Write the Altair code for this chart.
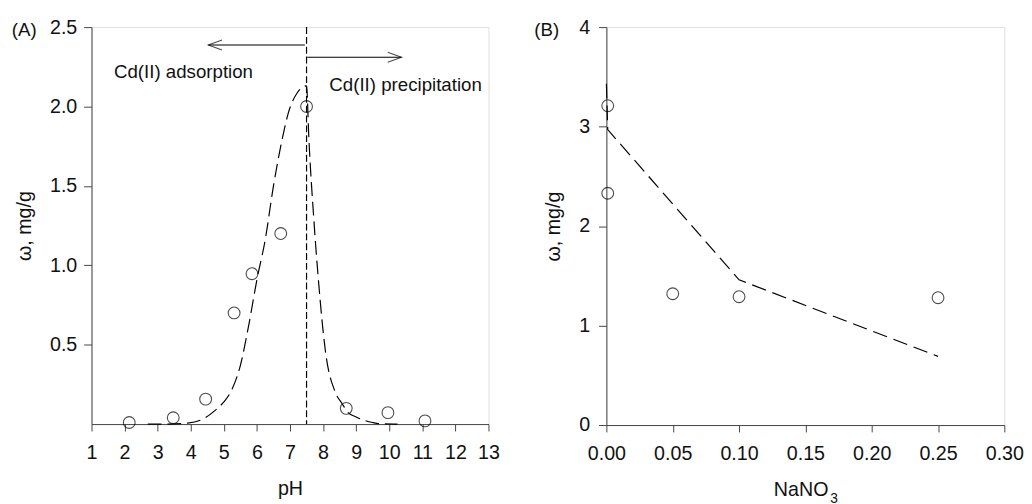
import altair as alt
import pandas as pd

FONT = "Liberation Sans"
AXC = "#444444"
TXT = "#111111"

# ---- Panel A data ----
ph_pts = [2.14, 3.47, 4.45, 5.31, 5.85, 6.72, 7.50, 8.70, 9.96, 11.08]
w_pts = [0.01, 0.04, 0.157, 0.70, 0.947, 1.20, 2.00, 0.099, 0.072, 0.02]

ph_fit = [2.7, 3.3, 3.9, 4.4, 4.7, 5.0, 5.2, 5.5, 5.75, 6.0, 6.25, 6.5, 6.78, 6.95,
          7.2, 7.5, 7.57, 7.72, 7.87, 8.07, 8.37, 8.57, 8.76, 9.0, 9.2, 9.5, 9.75, 10.25]
w_fit = [0.0, 0.0, 0.006, 0.035, 0.08, 0.14, 0.2, 0.37, 0.62, 0.91, 1.16, 1.5, 1.81, 1.96,
         2.08, 2.13, 1.80, 1.29, 0.88, 0.46, 0.2, 0.13, 0.072, 0.045, 0.027, 0.01, 0.002, 0.0]

vline_ph = [7.5]
arrow_x1 = [7.45, 7.52]
arrow_x2 = [4.53, 10.37]
arrow_y = [2.387, 2.31]
arrow_dir = ["left", "right"]

ann_text = ["Cd(II) adsorption", "Cd(II) precipitation"]
ann_x = [1.68, 8.19]
ann_y = [2.217, 2.135]

# ---- Panel B data ----
na_pts = [0.001, 0.001, 0.05, 0.10, 0.25]
wb_pts = [3.21, 2.33, 1.32, 1.29, 1.28]
na_fit = [0.0, 0.001, 0.10, 0.25]
wb_fit = [3.43, 2.97, 1.46, 0.69]

ph_ticks = list(range(1, 14))
wa_ticks = [0.5, 1.0, 1.5, 2.0, 2.5]
na_ticks = [0.0, 0.05, 0.10, 0.15, 0.20, 0.25, 0.30]
wb_ticks = [0, 1, 2, 3, 4]

WA, HA = 404, 404
WB, HB = 405, 405
LFS = 20

def xaxis(vals, fmt, title, **kw):
    return alt.Axis(values=vals, format=fmt, title=title, grid=False, tickSize=7,
                    labelPadding=12, labelFontSize=LFS, labelFont=FONT, labelColor=TXT,
                    titleFont=FONT, titleFontSize=20, titleFontWeight="normal",
                    titleColor=TXT, titlePadding=17, domainColor=AXC, tickColor=AXC,
                    labelFlush=False, labelOverlap=False, **kw)

def yaxis(vals, fmt, lp, tp):
    return alt.Axis(values=vals, format=fmt, title="ω, mg/g", grid=False, tickSize=8,
                    labelPadding=lp, labelFontSize=LFS, labelFont=FONT, labelColor=TXT,
                    titleFont=FONT, titleFontSize=20, titleFontWeight="normal",
                    titleColor=TXT, titlePadding=tp, domainColor=AXC, tickColor=AXC,
                    labelOverlap=False)

xA = alt.Scale(domain=[1, 13], nice=False, zero=False)
yA = alt.Scale(domain=[0, 2.5], nice=False)
axXA = xaxis(ph_ticks, "d", "pH")
axYA = yaxis(wa_ticks, ".1f", 7, 15)

ptsA = pd.DataFrame({"ph": ph_pts, "w": w_pts})
fitA = pd.DataFrame({"ph": ph_fit, "w": w_fit})
vA = pd.DataFrame({"ph": vline_ph})
arrA = pd.DataFrame({"x1": arrow_x1, "x2": arrow_x2, "y": arrow_y, "d": arrow_dir})
annA = pd.DataFrame({"t": ann_text, "x": ann_x, "y": ann_y})

baseA = alt.Chart(ptsA).mark_point(shape="circle", filled=False, color="black",
                                   size=144, strokeWidth=1.1).encode(
    x=alt.X("ph:Q", scale=xA, axis=axXA),
    y=alt.Y("w:Q", scale=yA, axis=axYA),
)
fitLineA = alt.Chart(fitA).mark_line(color="black", strokeWidth=1.2, strokeDash=[14, 6],
                                     interpolate="monotone").encode(
    x=alt.X("ph:Q", scale=xA, axis=axXA), y=alt.Y("w:Q", scale=yA, axis=axYA))
vruleA = alt.Chart(vA).mark_rule(color="black", strokeWidth=1.2, strokeDash=[7, 3]).encode(
    x=alt.X("ph:Q", scale=xA, axis=axXA), y=alt.value(0), y2=alt.value(HA))
shaftA = alt.Chart(arrA).mark_rule(color="black", strokeWidth=1.1).encode(
    x=alt.X("x1:Q", scale=xA, axis=axXA), x2="x2:Q",
    y=alt.Y("y:Q", scale=yA, axis=axYA))
headL = alt.Chart(arrA[arrA.d == "left"]).mark_point(
    shape="M 1 -0.36 L 0 0 L 1 0.36", filled=False, color="black", size=784,
    strokeWidth=1.1).encode(x=alt.X("x2:Q", scale=xA, axis=axXA),
                            y=alt.Y("y:Q", scale=yA, axis=axYA))
headR = alt.Chart(arrA[arrA.d == "right"]).mark_point(
    shape="M -1 -0.36 L 0 0 L -1 0.36", filled=False, color="black", size=784,
    strokeWidth=1.1).encode(x=alt.X("x2:Q", scale=xA, axis=axXA),
                            y=alt.Y("y:Q", scale=yA, axis=axYA))
textA = alt.Chart(annA).mark_text(align="left", baseline="middle", font=FONT,
                                  fontSize=19, color=TXT).encode(
    x=alt.X("x:Q", scale=xA, axis=axXA), y=alt.Y("y:Q", scale=yA, axis=axYA), text="t:N")
labA = alt.Chart(pd.DataFrame({"t": ["(A)"]})).mark_text(
    align="center", baseline="middle", font=FONT, fontSize=19, color=TXT).encode(
    x=alt.value(-68.5), y=alt.value(3), text="t:N")

panelA = alt.layer(baseA, fitLineA, vruleA, shaftA, headL, headR, textA, labA).properties(
    width=WA, height=HA)

xB = alt.Scale(domain=[0, 0.30], nice=False)
yB = alt.Scale(domain=[0, 4], nice=False)
axXB = xaxis(na_ticks, ".2f", "NaNO", titleX=197.7)
axYB = yaxis(wb_ticks, "d", 9, 16)
ptsB = pd.DataFrame({"n": na_pts, "w": wb_pts})
fitB = pd.DataFrame({"n": na_fit, "w": wb_fit})

baseB = alt.Chart(ptsB).mark_point(shape="circle", filled=False, color="black",
                                   size=144, strokeWidth=1.1).encode(
    x=alt.X("n:Q", scale=xB, axis=axXB),
    y=alt.Y("w:Q", scale=yB, axis=axYB),
)
fitLineB = alt.Chart(fitB).mark_line(color="black", strokeWidth=1.2,
                                     strokeDash=[15, 7]).encode(
    x=alt.X("n:Q", scale=xB, axis=axXB), y=alt.Y("w:Q", scale=yB, axis=axYB))
subB = alt.Chart(pd.DataFrame({"t": ["3"]})).mark_text(
    align="center", baseline="top", font=FONT, fontSize=14, color=TXT).encode(
    x=alt.value(231.7), y=alt.value(473), text="t:N")
labB = alt.Chart(pd.DataFrame({"t": ["(B)"]})).mark_text(
    align="center", baseline="middle", font=FONT, fontSize=19, color=TXT).encode(
    x=alt.value(-60.8), y=alt.value(3), text="t:N")

panelB = alt.layer(baseB, fitLineB, subB, labB).properties(width=WB, height=HB)

chart = alt.hconcat(panelA, panelB, spacing=34).properties(
    padding={"left": 3, "top": 4, "right": 0, "bottom": 0}
).configure_view(stroke=AXC, strokeWidth=1).configure_axis(
    labelOverlap=False, labelFlush=False, grid=False
).configure(background="white")

chart.save("out.html", embed_options={"renderer": "svg", "actions": False})
